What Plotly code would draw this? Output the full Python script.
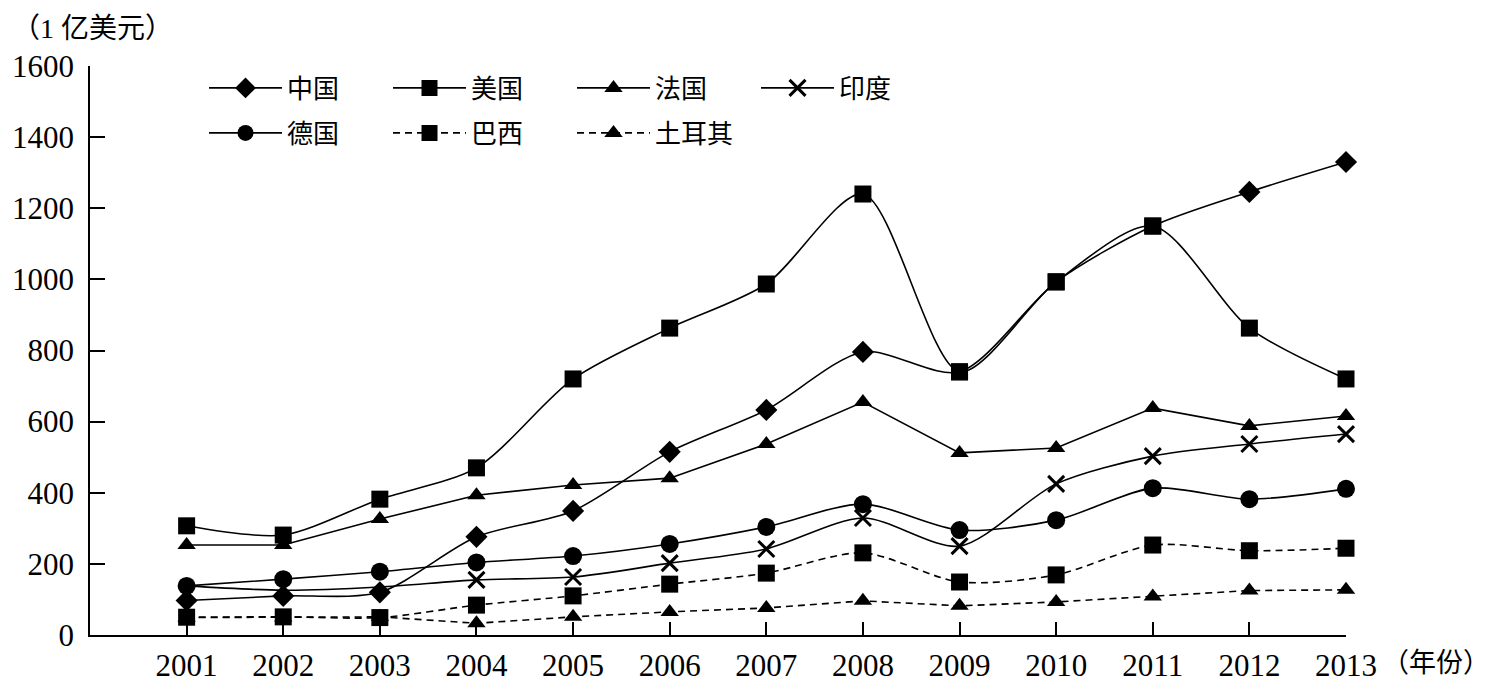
import plotly.graph_objects as go

years = list(range(2001, 2014))
china  = [97, 110, 120, 276, 349, 515, 633, 796, 740, 993, 1150, 1246, 1330]
usa    = [307, 281, 382, 470, 720, 863, 987, 1240, 740, 993, 1150, 863, 720]
france = [253, 253, 326, 393, 422, 441, 537, 655, 512, 526, 638, 588, 616]
india  = [138, 126, 135, 155, 163, 202, 242, 329, 250, 425, 503, 537, 565]
germany = [138, 157, 178, 204, 222, 256, 304, 368, 295, 323, 413, 382, 411]
brazil = [50, 51, 49, 84, 110, 143, 174, 231, 149, 169, 253, 237, 244]
turkey = [49, 49, 51, 33, 51, 65, 76, 96, 82, 93, 108, 125, 127]
yticks = [0, 200, 400, 600, 800, 1000, 1200, 1400, 1600]
india_marked_from = 2004   # the reference shows India's markers only from 2004 on

FONT = "Liberation Serif, Noto Sans CJK SC"
BLACK = "#000000"

# China's markers coincide with (and sit under) the US squares in 2009-2011
china_symbols = ["square" if (c == u) else "diamond" for c, u in zip(china, usa)]

# name, values, symbol, size, dash, line shape, legend row
series = [
    ("中国", china, china_symbols, 17, "solid", "spline", "legend"),
    ("美国", usa, "square", 17, "solid", "spline", "legend"),
    ("法国", france, "triangle-up", 16, "solid", "linear", "legend"),
    ("印度", india, "x-thin-open", 16, "solid", "spline", "legend"),
    ("德国", germany, "circle", 18, "solid", "spline", "legend2"),
    ("巴西", brazil, "square", 17, "7px,5px", "spline", "legend2"),
    ("土耳其", turkey, "triangle-up", 16, "7px,5px", "linear", "legend2"),
]

fig = go.Figure()
for name, vals, sym, size, dash, shape, leg in series:
    marker = dict(symbol=sym, size=size, color=BLACK)
    if sym == "x-thin-open":
        marker["line"] = dict(color=BLACK, width=3)
    else:
        marker["line"] = dict(width=0)
    line = dict(color=BLACK, width=1.6, dash=dash, shape=shape)
    if shape == "spline":
        line["smoothing"] = 0.8
    extra = {}
    if name == "印度":
        extra = dict(
            selectedpoints=[i for i, y in enumerate(years) if y >= india_marked_from],
            selected=dict(marker=dict(opacity=1)),
            unselected=dict(marker=dict(opacity=0)),
        )
    fig.add_trace(go.Scatter(
        x=years, y=vals, name=name, mode="lines+markers", legend=leg,
        line=line, marker=marker, cliponaxis=False, **extra,
    ))

# plot area in screen px (page has 8px body margin)
PL, PT, PW, PH = 90, 66, 1256, 569

def px(xs):
    return (xs - PL) / PW

def py(ys):
    return (PT + PH - ys) / PH

legend_common = dict(
    orientation="h", xanchor="left", yanchor="middle",
    entrywidth=96, entrywidthmode="pixels", itemwidth=73,
    font=dict(family=FONT, size=26, color=BLACK),
    bgcolor="rgba(0,0,0,0)", traceorder="normal",
)

fig.update_layout(
    width=1490, height=685,
    margin=dict(l=82, r=152, t=58, b=58),
    paper_bgcolor="white", plot_bgcolor="white",
    font=dict(family=FONT, size=31, color=BLACK),
    showlegend=True,
    legend=dict(x=px(204), y=py(88), **legend_common),
    legend2=dict(x=px(204), y=py(133), **legend_common),
    xaxis=dict(
        range=[2000, 2013], tickvals=years, ticktext=[str(y) for y in years],
        showline=True, linecolor=BLACK, linewidth=1.6,
        ticks="inside", ticklen=13, tickwidth=1.6, tickcolor=BLACK,
        showgrid=False, zeroline=False, ticklabelstandoff=2, automargin=False,
        tickfont=dict(family=FONT, size=31, color=BLACK),
    ),
    yaxis=dict(
        range=[0, 1600], tickvals=yticks,
        showline=True, linecolor=BLACK, linewidth=1.6,
        ticks="inside", ticklen=15, tickwidth=1.6, tickcolor=BLACK,
        showgrid=False, zeroline=False, ticklabelstandoff=8, automargin=False,
        tickfont=dict(family=FONT, size=31, color=BLACK),
    ),
    annotations=[
        dict(text="（1 亿美元）", xref="paper", yref="paper",
             x=px(10), y=py(28), xanchor="left", yanchor="middle",
             showarrow=False, font=dict(family=FONT, size=28, color=BLACK)),
        dict(text="（年份）", xref="paper", yref="paper",
             x=px(1380), y=py(663), xanchor="left", yanchor="middle",
             showarrow=False, font=dict(family=FONT, size=27, color=BLACK)),
    ],
)

fig.write_html("out.html")
